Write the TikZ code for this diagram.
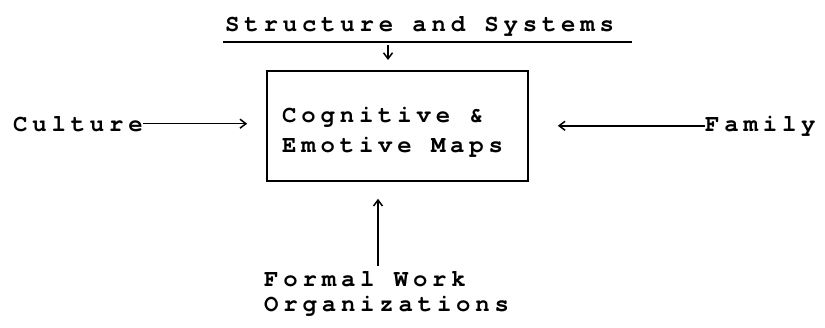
\documentclass[tikz,border=0pt]{standalone}
\usepackage{fontspec}
\usetikzlibrary{arrows.meta, calc, positioning}
\newfontfamily\typer[LetterSpace=20]{texgyrecursor-bold.otf}

\begin{document}
\begin{tikzpicture}[x=1pt, y=-1pt,
        lbl/.style={font=\typer\fontsize{24}{25}\selectfont, inner sep=0pt},
        maptxt/.style={font=\typer\fontsize{24}{30}\selectfont, inner sep=0pt},
        mapbox/.style={draw, line width=1.6pt, minimum width=261pt,
                       minimum height=110pt},
        arr/.style={-{Straight Barb[length=6pt, width=9pt]}, line width=1.5pt}
      ]
      \useasboundingbox (0,0) rectangle (825,327);

      \node[mapbox] (maps) at (397.5,126) {};
      \node[maptxt, align=left, anchor=base west] (mapstext) at (282,152)
           {Cognitive \&\\Emotive Maps};
      \node[lbl, anchor=base west] (struct) at (225,31) {Structure and Systems};
      \node[lbl, anchor=base west] (culture) at (13,131) {Culture};
      \node[lbl, anchor=base west] (family) at (705,131) {Family};
      \node[lbl, align=left, anchor=base west] (formal) at (264,311)
           {Formal Work\\Organizations};

      % Unterstrich
      \draw[line width=1.3pt] (223,42) -- ++(409,0) coordinate (ul);

      \draw[arr] ([xshift=-9.5pt]maps.north |- ul) ++(0,3) -- ++(0,15);
      \draw[arr, shorten >=19pt] (culture.east) -- (culture.east -| maps.west);
      \draw[arr, shorten >=29pt] (family.west) -- (family.west -| maps.east);
      \draw[arr, shorten >=17pt] ([xshift=-19.5pt]maps.south |- formal.north)
        ++(0,-5) -- ([xshift=-19.5pt]maps.south);
    \end{tikzpicture}
\end{document}
